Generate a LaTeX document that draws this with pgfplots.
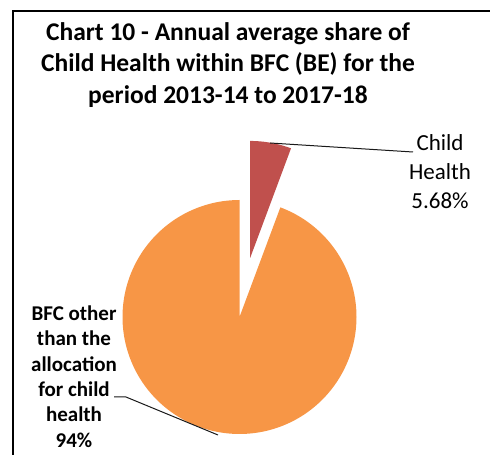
\documentclass[border=0pt]{standalone}
\usepackage{pgfplots}
\pgfplotsset{compat=1.18}
\usepackage{pgfplotstable}
\usepackage{fontspec}
\setmainfont{Carlito}
\definecolor{pieorange}{HTML}{F79646}
\definecolor{piered}{HTML}{C0504D}

\pgfplotstableread{
share name
5.68 ChildHealth
94.32 Other
}\pietable

\begin{document}
\begin{tikzpicture}
\path[use as bounding box] (0,0) rectangle (490pt,455pt);
\pgfplotstablegetelem{0}{share}\of\pietable
\let\childshare\pgfplotsretval
\pgfplotstablegetelem{1}{share}\of\pietable
\let\othershare\pgfplotsretval
% pie geometry (in picture units)
\def\cx{239.5}\def\cy{138}\def\R{117}\def\ex{60}
\pgfmathsetmacro\aChild{90-\childshare*3.6}
\pgfmathsetmacro\aStart{\aChild-\othershare*3.6}
\pgfmathsetmacro\aMid{(90+\aChild)/2}
\pgfmathsetmacro\rcx{\cx+\ex*cos(\aMid)}
\pgfmathsetmacro\rcy{\cy+\ex*sin(\aMid)}
\begin{axis}[
  at={(0,0)}, anchor=south west,
  width=490pt, height=455pt, scale only axis,
  xmin=0, xmax=490, ymin=0, ymax=455,
  axis lines=none, clip=false,
]
% frame
\addplot[black, line width=1.8pt, mark=none] coordinates {(13,0) (13,444) (490,444)};
% other slice
\addplot[fill=pieorange, draw=none, mark=none, domain=\aStart:\aChild, samples=240, variable=\t]
  ({\cx+\R*cos(\t)}, {\cy+\R*sin(\t)}) -- (axis cs:\cx,\cy) -- cycle;
% child health slice (exploded)
\addplot[fill=piered, draw=none, mark=none, domain=\aChild:90, samples=30, variable=\t]
  ({\rcx+\R*cos(\t)}, {\rcy+\R*sin(\t)}) -- (axis cs:\rcx,\rcy) -- cycle;
% leader lines
\addplot[black!90, line width=1pt, mark=none] coordinates {(270,312) (413,303)};
\addplot[black!90, line width=1pt, mark=none] coordinates {(114,58) (126,58) (218,20)};
% title
\node[align=center, font=\bfseries\fontsize{25.5}{31.5}\selectfont] at (axis cs:228,390)
  {Chart 10 - Annual average share of\\Child Health within BFC (BE) for the\\period 2013-14 to 2017-18};
% labels
\node[align=center, font=\fontsize{23}{28.7}\selectfont] at (axis cs:440,283.5)
  {Child\\Health\\5.68\%};
\node[align=center, font=\bfseries\fontsize{21}{25.4}\selectfont] at (axis cs:74,78.5)
  {BFC other\\than the\\allocation\\for child\\health\\94\%};
\end{axis}
\end{tikzpicture}
\end{document}
